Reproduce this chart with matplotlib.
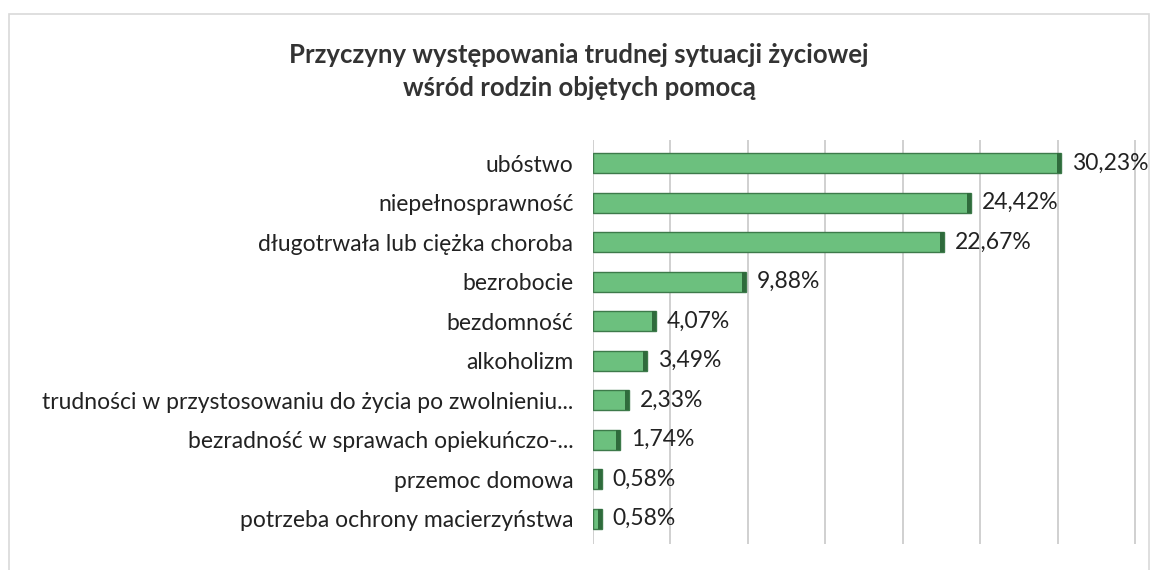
"""
Horizontal bar chart of the reasons for a difficult life situation
among families receiving assistance.
"""
import numpy as np
import matplotlib as mpl
import matplotlib.pyplot as plt

mpl.rcParams['font.family'] = ['Lato', 'DejaVu Sans']

categories = ['ubóstwo', 'niepełnosprawność', 'długotrwała lub ciężka choroba',
              'bezrobocie', 'bezdomność', 'alkoholizm',
              'trudności w przystosowaniu do życia po zwolnieniu...',
              'bezradność w sprawach opiekuńczo-...', 'przemoc domowa',
              'potrzeba ochrony macierzyństwa']
values = [30.23, 24.42, 22.67, 9.88, 4.07, 3.49, 2.33, 1.74, 0.58, 0.58]
value_labels = ['30,23%', '24,42%', '22,67%', '9,88%', '4,07%', '3,49%',
                '2,33%', '1,74%', '0,58%', '0,58%']

y = np.arange(len(categories))

plt.figure(figsize=(11.58, 5.7), dpi=100)
plt.axes([0.512, 0.045, 0.475, 0.71])

plt.barh(y, values, height=0.5, color='#6cc07e', edgecolor='#3d7a4a', lw=1, zorder=3)
plt.barh(y, [0.25]*len(y), left=np.array(values) - 0.25, height=0.5,
    color='#2f6b3c', zorder=4)  # darker end face

for yi, v, lab in zip(y, values, value_labels):
    plt.text(v + 0.7, yi, lab, va='center', ha='left', fontsize=16.5, color='#222222')

plt.xlim(0, 35.5)
plt.ylim(len(y) - 0.35, -0.6)
plt.xticks(np.arange(0, 36, 5), [])
plt.yticks(y, categories, fontsize=16.5, color='#222222')
plt.tick_params(axis='both', length=0, pad=14)
plt.grid(axis='x', color='#c8c8c8', lw=1.2, zorder=0)
for side in ['top', 'right', 'bottom', 'left']:
    plt.gca().spines[side].set_visible(False)

plt.figtext(0.5, 0.875, 'Przyczyny występowania trudnej sytuacji życiowej\nwśród rodzin objętych pomocą',
    ha='center', va='center', fontsize=18.5, fontweight='bold', color='#333333', linespacing=1.45)

frame = plt.Rectangle((0.008, -0.01), 0.984, 0.985, transform=plt.gcf().transFigure,
    fill=False, edgecolor='#d9d9d9', lw=1.2)
plt.gcf().patches.append(frame)

plt.savefig('out.png')
